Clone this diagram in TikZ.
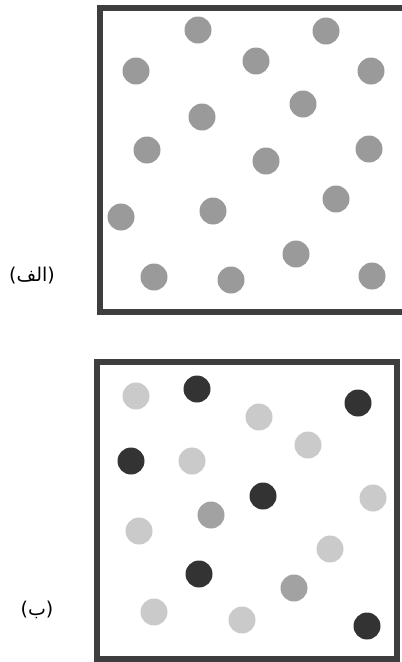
\documentclass[tikz,border=0pt]{standalone}
\usepackage{fontspec}
\newfontfamily\arabicfont[Script=Arabic]{DejaVu Sans}
\TeXXeTstate=1
\definecolor{framec}{HTML}{3E3E3E}
\definecolor{midg}{HTML}{9A9A9A}
\definecolor{lightg}{HTML}{CACACA}
\definecolor{medg}{HTML}{A2A2A2}
\definecolor{darkg}{HTML}{333333}
\tikzset{
  frame/.style={draw=framec, line width=5.5pt},
  ball/.style={circle, inner sep=0pt, minimum size=27pt},
  ballA/.style={ball, fill=midg},
  ballL/.style={ball, fill=lightg},
  ballM/.style={ball, fill=medg},
  ballD/.style={ball, fill=darkg},
  lab/.style={font=\arabicfont\fontsize{19}{22}\selectfont, inner sep=0pt}
}
\begin{document}
\begin{tikzpicture}[x=1pt,y=-1pt]
\useasboundingbox (0,0) rectangle (402,662);
\clip (0,0) rectangle (402,662);
% top box (right side runs off the picture)
\draw[frame] (410,8) -- (100,8) -- (100,312) -- (410,312);
% bottom box
\draw[frame] (97,362) rectangle (397,659);
% top balls
\foreach \i/\x/\y in {1/198/30,2/326/31,3/136/71,4/256/61,5/371/71,6/202/117,7/303/104,8/147/150,9/266/161,10/369/149,11/121/217,12/213/211,13/336/199,14/296/254,15/154/277,16/231/280,17/372/276}
  \node[ballA] (a\i) at (\x,\y) {};
% bottom balls
\foreach \i/\x/\y/\s in {1/136/396/ballL,2/197/389/ballD,3/358/403/ballD,4/259/417/ballL,5/308/445/ballL,6/131/461/ballD,7/192/461/ballL,8/263/496/ballD,9/373/498/ballL,10/211/515/ballM,11/139/531/ballL,12/330/549/ballL,13/199/574/ballD,14/294/588/ballM,15/154/612/ballL,16/242/620/ballL,17/367/626/ballD}
  \node[\s] (b\i) at (\x,\y) {};
% labels
\node[lab] (la) at (32,276) {\beginR(الف)\endR};
\node[lab] (lb) at (37,610) {\beginR(ب)\endR};
\end{tikzpicture}
\end{document}
